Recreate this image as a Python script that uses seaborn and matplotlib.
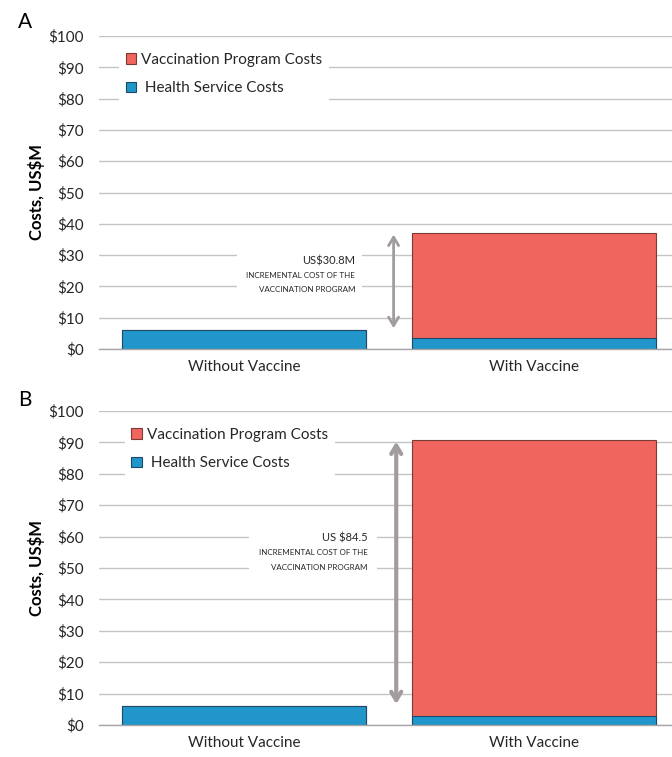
import matplotlib
matplotlib.use("Agg")
import matplotlib.pyplot as plt
from matplotlib.patches import Patch, Rectangle
import seaborn as sns
import pandas as pd

sns.set_theme(style="white")
plt.rcParams["font.family"] = ["Lato", "DejaVu Sans"]

# Data (US$ millions)
categories = ["Without Vaccine", "With Vaccine"]
without_health = [6.2, 6.2]          # health service costs without vaccine (panel A, B)
with_health = [3.5, 2.8]             # health service costs with vaccine (panel A, B)
incremental = [30.8, 84.5]           # incremental cost of the vaccination program
increment_labels = ["US$30.8M", "US $84.5"]
panel_names = ["A", "B"]
y_ticks = list(range(0, 101, 10))
y_tick_labels = [f"${v}" for v in y_ticks]

RED = "#F0665F"
RED_EDGE = "#7a3b38"
BLUE = "#2196CB"
BLUE_EDGE = "#1d4a66"
GRID = "#c4c4c4"
TEXT = "#262626"
ARROW = "#a29c9e"

W, H = 672, 757
fig = plt.figure(figsize=(W / 100, H / 100), dpi=100)

panel_px = [(36, 349), (411, 725)]   # top / bottom pixel rows of each plot area
x_left, x_right = 99, 679.5

# per-panel layout for the legend and the annotation block
legend_anchor = [(0.034, 0.968), (0.044, 0.968)]
note_layout = [
    dict(rect=(-0.024, 15.5, 0.43, 18.5), tx=0.383, ys=[28.0, 23.4, 19.0],
         arrow_x=0.515, lw=2.0),
    dict(rect=(0.017, 46.0, 0.44, 18.5), tx=0.425, ys=[59.5, 54.8, 50.3],
         arrow_x=0.524, lw=3.0),
]

for i, name in enumerate(panel_names):
    top, bottom = panel_px[i]
    ax = fig.add_axes([x_left / W, 1 - bottom / H, (x_right - x_left) / W, (bottom - top) / H])

    health = [without_health[i], with_health[i]]
    total_with = without_health[i] + incremental[i]
    program = [0.0, total_with - with_health[i]]
    totals = [h + p for h, p in zip(health, program)]
    df = pd.DataFrame({"category": categories, "health": health, "total": totals})

    sns.barplot(data=df, x="category", y="total", color=RED, saturation=1,
                width=0.84, edgecolor=RED_EDGE, linewidth=0.8, ax=ax, zorder=3)
    sns.barplot(data=df, x="category", y="health", color=BLUE, saturation=1,
                width=0.84, edgecolor=BLUE_EDGE, linewidth=0.8, ax=ax, zorder=4)

    ax.set_ylim(0, 100)
    ax.set_xlim(-0.5, 1.5)
    ax.set_yticks(y_ticks)
    ax.set_yticklabels(y_tick_labels)
    ax.yaxis.grid(True, color=GRID, linewidth=1.0, zorder=0)
    ax.set_axisbelow(True)
    for s in ["top", "right", "left"]:
        ax.spines[s].set_visible(False)
    ax.spines["bottom"].set_color("#a6a6a6")
    ax.spines["bottom"].set_linewidth(1.0)
    ax.spines["bottom"].set_zorder(5)
    ax.tick_params(axis="both", length=0, labelsize=11, labelcolor=TEXT)
    ax.tick_params(axis="y", pad=11)
    ax.tick_params(axis="x", pad=8)
    ax.set_xlabel("")
    ax.set_ylabel("Costs, US$M", fontsize=12, fontweight="bold", color="black", labelpad=2)

    # legend
    handles = [Patch(facecolor=RED, edgecolor=RED_EDGE, linewidth=0.8),
               Patch(facecolor=BLUE, edgecolor=BLUE_EDGE, linewidth=0.8)]
    leg = ax.legend(handles, ["Vaccination Program Costs", " Health Service Costs"],
                    loc="upper left", bbox_to_anchor=legend_anchor[i],
                    frameon=True, fontsize=11, handlelength=0.7, handleheight=0.7,
                    handletextpad=0.3, labelspacing=0.95, borderpad=0.45,
                    borderaxespad=0)
    leg.get_frame().set_facecolor("white")
    leg.get_frame().set_edgecolor("none")
    leg.get_frame().set_alpha(1)
    leg.set_zorder(6)
    for t in leg.get_texts():
        t.set_color(TEXT)

    # annotation block with its own white backing
    lay = note_layout[i]
    rx, ry, rw, rh = lay["rect"]
    ax.add_patch(Rectangle((rx, ry), rw, rh, facecolor="white", edgecolor="none", zorder=1))
    ax.text(lay["tx"], lay["ys"][0], increment_labels[i], ha="right", va="center",
            fontsize=8, color=TEXT, zorder=6)
    ax.text(lay["tx"], lay["ys"][1], "INCREMENTAL COST OF THE", ha="right", va="center",
            fontsize=5.8, color=TEXT, zorder=6)
    ax.text(lay["tx"], lay["ys"][2], "VACCINATION PROGRAM", ha="right", va="center",
            fontsize=5.8, color=TEXT, zorder=6)

    # double-headed arrow spanning the incremental cost
    ax.annotate("", xy=(lay["arrow_x"], total_with), xytext=(lay["arrow_x"], without_health[i]),
                arrowprops=dict(arrowstyle="<->,head_length=0.5,head_width=0.3",
                                color=ARROW, lw=lay["lw"], shrinkA=1, shrinkB=1),
                zorder=6)

    fig.text(18 / W, 1 - (22 if i == 0 else 400) / H, name, fontsize=15,
             ha="left", va="center", color="black")

fig.savefig("out.png", dpi=100)
